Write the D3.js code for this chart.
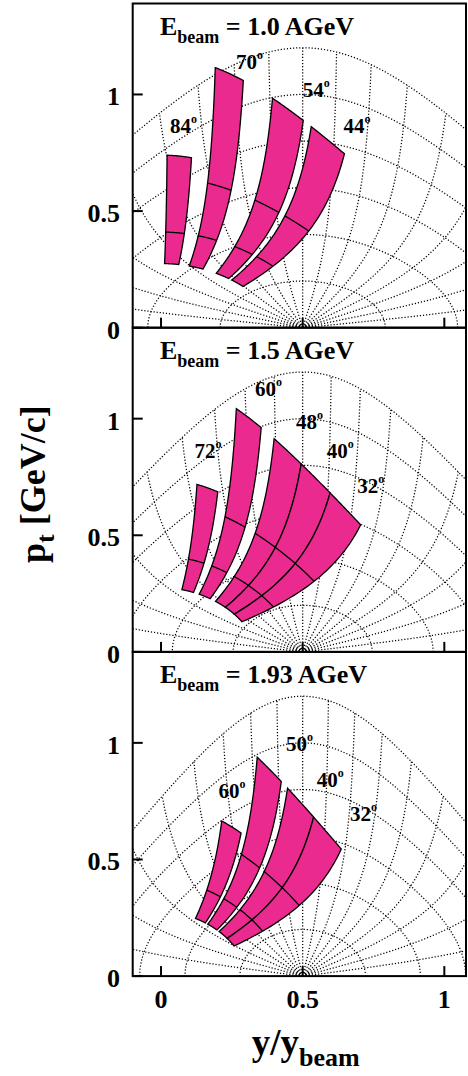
<!DOCTYPE html>
<html><head><meta charset="utf-8">
<script src="https://cdn.jsdelivr.net/npm/d3@7"></script>
<style>
body{margin:0;background:#fff}
svg{display:block}
text{font-family:"Liberation Serif","Times New Roman",serif;font-weight:bold;fill:#000}
</style></head><body>
<svg id="c" width="468" height="1076"></svg>
<script>
// ---------------- data ----------------
const beamEnergies = [1.0, 1.5, 1.93];            // kinetic beam energy per nucleon (AGeV)
const beamLabels   = ["1.0", "1.5", "1.93"];
const kaonMass = 0.4937, nucleonMass = 0.938;     // GeV/c^2
// grid: CM momentum contours (GeV/c) and CM polar angles (deg)
const cmMomenta = [0.2, 0.4, 0.6, 0.8, 1.0, 1.2];
const cmAngles  = [10, 20, 30, 40, 50, 60, 70, 80, 90, 100, 110, 120, 130, 140, 150, 160, 170];
// spectrometer settings: lab angles (deg) and momentum bin edges (GeV/c)
const labAngles1 = [84, 70, 54, 44];
const labAngles2 = [72, 60, 48, 40, 32];
const labAngles3 = [60, 50, 40, 32];
const lowMomentumBins  = [0.275, 0.41, 0.74];
const fullMomentumBins = [0.275, 0.41, 0.645, 1.16];
const momentumBins1 = [lowMomentumBins, fullMomentumBins, fullMomentumBins, fullMomentumBins];
const momentumBins2 = [lowMomentumBins, fullMomentumBins, fullMomentumBins, fullMomentumBins, fullMomentumBins];
const momentumBins3 = [lowMomentumBins, fullMomentumBins, fullMomentumBins, fullMomentumBins];
const angleHalfWidth = 4;                         // deg
// angle label anchors (y/y_beam, p_t)
const labelX1 = [0.032, 0.265, 0.50, 0.644];
const labelPt1 = [0.834, 1.111, 0.987, 0.835];
const labelX2 = [0.118, 0.332, 0.476, 0.585, 0.693];
const labelPt2 = [0.831, 1.097, 0.955, 0.833, 0.680];
const labelX3 = [0.2025, 0.441, 0.5495, 0.667];
const labelPt3 = [0.763, 0.963, 0.810, 0.667];
const xTicks = [0, 0.5, 1];
const yTicks = [0, 0.5, 1];
const xTickLabels = ["0", "0.5", "1"];
const yTickLabels = ["0", "0.5", "1"];
const yDomain = [0, 1.39];
const xDomain = [-0.1, 1.1];

const panels = [
  {angles: labAngles1, bins: momentumBins1, lx: labelX1, lp: labelPt1},
  {angles: labAngles2, bins: momentumBins2, lx: labelX2, lp: labelPt2},
  {angles: labAngles3, bins: momentumBins3, lx: labelX3, lp: labelPt3}
];

// ---------------- kinematics ----------------
const M = kaonMass;
function rapidity(pz, pt){ const E = Math.sqrt(pz*pz + pt*pt + M*M); return 0.5*Math.log((E+pz)/(E-pz)); }
function beamRapidity(T){ return Math.acosh(1 + T/nucleonMass); }
function cmPoint(p, th, yb){ const t = th*Math.PI/180, pz = p*Math.cos(t), pt = p*Math.sin(t); return [0.5 + rapidity(pz, pt)/yb, pt]; }
function labPoint(p, th, yb){ const t = th*Math.PI/180, pz = p*Math.cos(t), pt = p*Math.sin(t); return [rapidity(pz, pt)/yb, pt]; }

// ---------------- layout ----------------
const svg = d3.select("#c");
const frameLeft = 132.7, frameRight = 466;
const x = d3.scaleLinear().domain(xDomain).range([frameLeft, frameLeft + 1.2*283.3]);
const panelTop0 = 3.5, panelH = 324.2;
const pink = "#EA2A8E";

const defs = svg.append("defs");

panels.forEach((P, i) => {
  const top = panelTop0 + i*panelH, bottom = top + panelH;
  const y = d3.scaleLinear().domain(yDomain).range([bottom, top]);
  const yb = beamRapidity(beamEnergies[i]);
  const line = d3.line().x(d => x(d[0])).y(d => y(d[1]));

  defs.append("clipPath").attr("id", "clip" + i)
    .append("rect").attr("x", frameLeft).attr("y", top).attr("width", frameRight - frameLeft).attr("height", panelH);

  const g = svg.append("g");
  const grid = g.append("g").attr("clip-path", `url(#clip${i})`)
    .attr("fill", "none").attr("stroke", "#000").attr("stroke-width", 1.25).attr("stroke-dasharray", "1.2 1.9");

  // constant CM momentum contours
  cmMomenta.forEach(p => {
    const pts = d3.range(0, 180.01, 1).map(th => cmPoint(p, th, yb));
    grid.append("path").attr("d", line(pts));
  });
  // constant CM angle lines
  const pMaxGrid = d3.max(cmMomenta);
  cmAngles.forEach(th => {
    const pts = d3.range(0, pMaxGrid + 1e-9, 0.005).map(p => cmPoint(p, th, yb));
    grid.append("path").attr("d", line(pts));
  });

  // acceptance bands
  const bands = g.append("g");
  P.angles.forEach((a, k) => {
    const thLo = a - angleHalfWidth, thHi = a + angleHalfWidth;
    const edges = P.bins[k];
    const pLo = edges[0], pHi = edges[edges.length - 1];
    const n = 40, pts = [];
    for (let j = 0; j <= n; j++) pts.push(labPoint(pLo + (pHi - pLo)*j/n, thHi, yb));
    for (let j = 0; j <= n; j++) pts.push(labPoint(pHi, thHi + (thLo - thHi)*j/n, yb));
    for (let j = 0; j <= n; j++) pts.push(labPoint(pHi - (pHi - pLo)*j/n, thLo, yb));
    for (let j = 0; j <= n; j++) pts.push(labPoint(pLo, thLo + (thHi - thLo)*j/n, yb));
    bands.append("path").attr("d", line(pts) + "Z")
      .attr("fill", pink).attr("stroke", "#000").attr("stroke-width", 1.3).attr("stroke-linejoin", "miter");
    edges.slice(1, -1).forEach(p => {
      const arc = d3.range(0, n + 1).map(j => labPoint(p, thLo + (thHi - thLo)*j/n, yb));
      bands.append("path").attr("d", line(arc)).attr("fill", "none").attr("stroke", "#000").attr("stroke-width", 1.3);
    });
  });

  // angle labels
  P.angles.forEach((a, k) => {
    const t = g.append("text").attr("x", x(P.lx[k])).attr("y", y(P.lp[k])).attr("font-size", 21);
    t.append("tspan").text(String(a));
    t.append("tspan").attr("font-size", 12).attr("dy", -10).text("o");
  });

  // title
  const tt = g.append("text").attr("x", 160).attr("y", top + 31.5).attr("font-size", 26);
  tt.append("tspan").text("E");
  tt.append("tspan").attr("font-size", 18).attr("dy", 7.5).text("beam");
  tt.append("tspan").attr("dy", -7.5).text(" = " + beamLabels[i] + " AGeV");

  // frame
  g.append("rect").attr("x", frameLeft).attr("y", top).attr("width", frameRight - frameLeft).attr("height", panelH)
    .attr("fill", "none").attr("stroke", "#000").attr("stroke-width", 2);

  // y ticks
  yTicks.forEach((v, k) => {
    g.append("line").attr("x1", frameLeft).attr("x2", frameLeft + 10).attr("y1", y(v)).attr("y2", y(v))
      .attr("stroke", "#000").attr("stroke-width", 2);
    g.append("text").attr("x", 120).attr("y", y(v) + 11).attr("text-anchor", "end").attr("font-size", 26).text(yTickLabels[k]);
  });
  // x ticks
  xTicks.forEach(v => {
    g.append("line").attr("x1", x(v)).attr("x2", x(v)).attr("y1", bottom).attr("y2", bottom - 10)
      .attr("stroke", "#000").attr("stroke-width", 2);
  });
  if (i === panels.length - 1) {
    xTicks.forEach((v, k) => {
      g.append("text").attr("x", x(v)).attr("y", bottom + 32).attr("text-anchor", "middle").attr("font-size", 26).text(xTickLabels[k]);
    });
  }
});

// axis titles
const xt = svg.append("text").attr("x", 251.7).attr("y", 1055).attr("font-size", 37);
xt.append("tspan").text("y/y");
xt.append("tspan").attr("font-size", 26).attr("dy", 11).text("beam");

const yt = svg.append("text").attr("transform", "translate(45,563) rotate(-90)").attr("font-size", 36);
yt.append("tspan").text("p");
yt.append("tspan").attr("font-size", 26).attr("dy", 9).text("t");
yt.append("tspan").attr("dy", -9).text(" [GeV/c]");
</script>
</body></html>
